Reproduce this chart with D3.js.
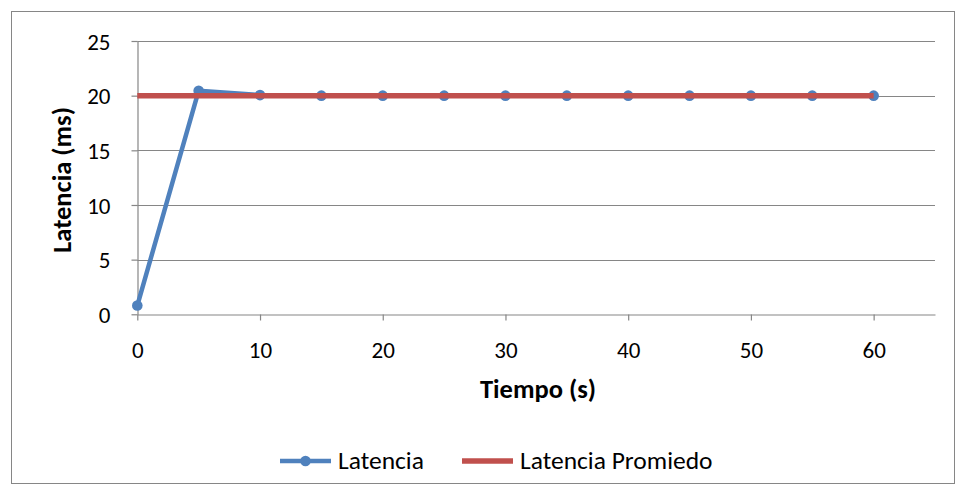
<!DOCTYPE html>
<html><head><meta charset="utf-8">
<script src="https://cdn.jsdelivr.net/npm/d3@7"></script>
<style>body{margin:0;background:#fff}svg{display:block}text{font-family:Carlito,Calibri,Lato,"Liberation Sans",sans-serif;fill:#000}</style>
</head><body>
<script>
const tiempo = [0,5,10,15,20,25,30,35,40,45,50,55,60];
const latencia = [0.8,20.45,20.05,20,20,20,20,20,20,20,20,20,20];
const latenciaPromedio = [20,20,20,20,20,20,20,20,20,20,20,20,20];
const xTicks = [0,10,20,30,40,50,60];
const yTicks = [0,5,10,15,20,25];
const seriesNames = ["Latencia","Latencia Promiedo"];

const W=966,H=496;
const svg=d3.select("body").append("svg").attr("width",W).attr("height",H);
svg.append("rect").attr("x",11.5).attr("y",11.5).attr("width",943).attr("height",472).attr("fill","#fff").attr("stroke","#868686").attr("stroke-width",1);

const x=d3.scaleLinear().domain([0,65]).range([137.3,935]);
const y=d3.scaleLinear().domain([0,25]).range([314.3,41]);

const g=svg.append("g");
g.selectAll(".grid").data(yTicks.filter(d=>d>0)).join("line")
 .attr("x1",x(0)).attr("x2",x(65)).attr("y1",d=>Math.round(y(d))+0.5).attr("y2",d=>Math.round(y(d))+0.5)
 .attr("stroke","#868686").attr("stroke-width",1.2);

const ya=g.append("g").attr("transform",`translate(${Math.round(x(0))+0.5},0)`)
 .call(d3.axisLeft(y).tickValues(yTicks).tickSize(6).tickPadding(21).tickSizeOuter(0));
ya.select(".domain").attr("stroke","#868686").attr("stroke-width",1.2);
ya.selectAll(".tick line").attr("stroke","#868686").attr("stroke-width",1.2);
ya.selectAll(".tick text").attr("font-size",23).attr("dy","0.36em");

const xa=g.append("g").attr("transform",`translate(0,${Math.round(y(0))+0.5})`)
 .call(d3.axisBottom(x).tickValues(xTicks).tickSize(6).tickPadding(37.5).tickSizeOuter(0));
xa.select(".domain").attr("stroke","#868686").attr("stroke-width",1.2);
xa.selectAll(".tick line").attr("stroke","#868686").attr("stroke-width",1.2);
xa.selectAll(".tick text").attr("font-size",23).attr("dy","0");

svg.append("text").attr("x",538).attr("y",398).attr("text-anchor","middle").attr("font-size",26.5).attr("font-weight","bold").text("Tiempo (s)");
svg.append("text").attr("transform","translate(71,180) rotate(-90)").attr("text-anchor","middle").attr("font-size",26.5).attr("font-weight","bold").text("Latencia (ms)");

const blue="#4F81BD", red="#C0504D";
const line=d3.line().x((d,i)=>x(tiempo[i])).y(d=>y(d));
g.append("path").datum(latencia).attr("d",line).attr("fill","none").attr("stroke",blue).attr("stroke-width",4.5).attr("stroke-linejoin","round");
g.selectAll(".dot").data(latencia).join("circle").attr("cx",(d,i)=>x(tiempo[i])).attr("cy",d=>y(d)).attr("r",5.3).attr("fill",blue);
g.append("path").datum(latenciaPromedio).attr("d",line).attr("fill","none").attr("stroke",red).attr("stroke-width",5.5);

const ly=461;
const lg=svg.append("g");
lg.append("line").attr("x1",280).attr("x2",331).attr("y1",ly).attr("y2",ly).attr("stroke",blue).attr("stroke-width",4.5);
lg.append("circle").attr("cx",305.5).attr("cy",ly).attr("r",5.3).attr("fill",blue);
lg.append("text").attr("x",338).attr("y",ly+8).attr("font-size",25.5).text(seriesNames[0]);
lg.append("line").attr("x1",462).attr("x2",513).attr("y1",ly).attr("y2",ly).attr("stroke",red).attr("stroke-width",5.5);
lg.append("text").attr("x",520).attr("y",ly+8).attr("font-size",25.5).text(seriesNames[1]);
</script>
</body></html>
